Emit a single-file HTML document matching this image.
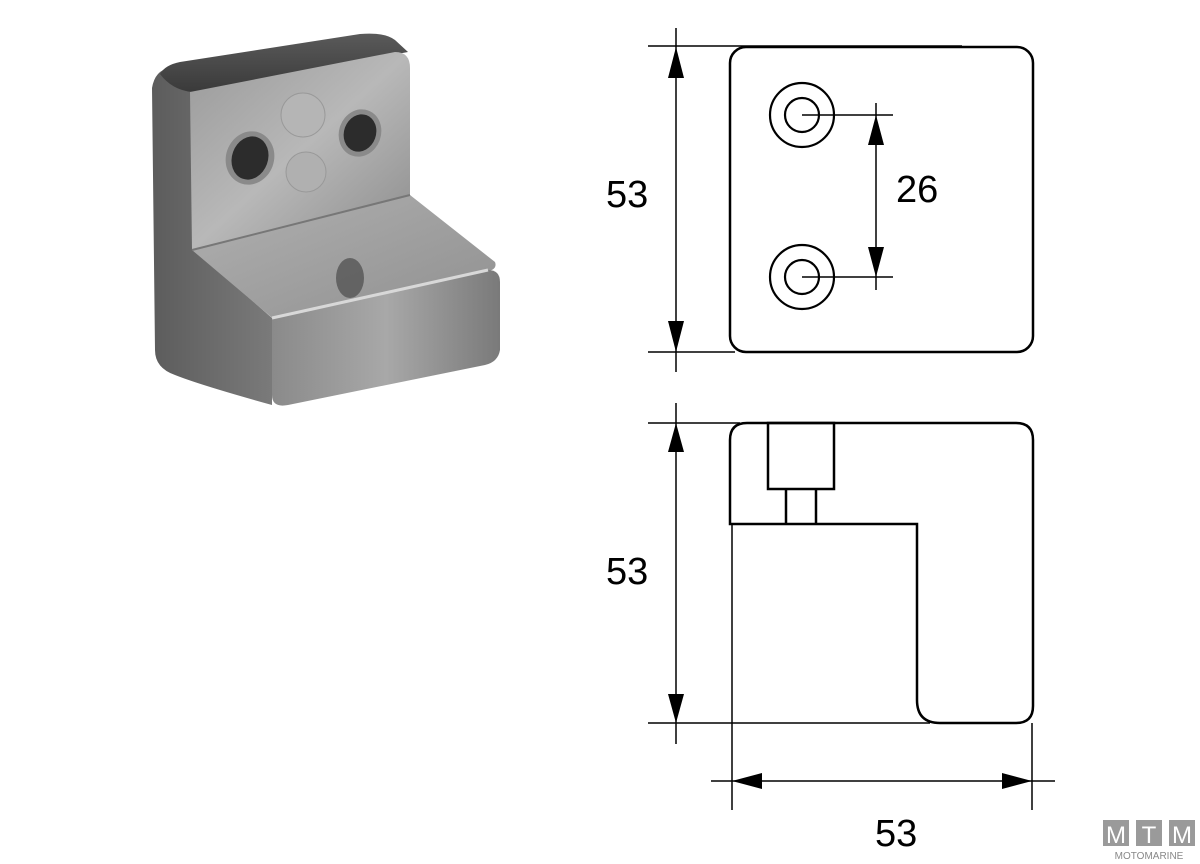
<!DOCTYPE html>
<html><head><meta charset="utf-8"><style>
html,body{margin:0;padding:0;background:#fff;width:1200px;height:864px;overflow:hidden}
svg{display:block}
</style></head><body>
<svg width="1200" height="864" viewBox="0 0 1200 864" xmlns="http://www.w3.org/2000/svg">
<defs>
<linearGradient id="gTop" x1="0" y1="0" x2="0" y2="1"><stop offset="0" stop-color="#5a5a5a"/><stop offset="1" stop-color="#3a3a3a"/></linearGradient>
<linearGradient id="gFace" x1="0" y1="0" x2="1" y2="1"><stop offset="0" stop-color="#9a9a9a"/><stop offset="0.5" stop-color="#b8b8b8"/><stop offset="1" stop-color="#8c8c8c"/></linearGradient>
<linearGradient id="gSide" x1="0" y1="0" x2="1" y2="0"><stop offset="0" stop-color="#5c5c5c"/><stop offset="1" stop-color="#7a7a7a"/></linearGradient>
<linearGradient id="gBase" x1="0" y1="0" x2="1" y2="0"><stop offset="0" stop-color="#8a8a8a"/><stop offset="0.5" stop-color="#a8a8a8"/><stop offset="1" stop-color="#7a7a7a"/></linearGradient>
<linearGradient id="gShelf" x1="0" y1="0" x2="1" y2="1"><stop offset="0" stop-color="#b0b0b0"/><stop offset="1" stop-color="#909090"/></linearGradient>
</defs>
<g>
<path d="M152,88 Q155,70 170,68 L192,92 L192,248 L272,318 L272,405 Q200,385 175,375 Q155,368 155,350 Z" fill="url(#gSide)"/>
<path d="M160,74 Q165,65 180,62 L360,34 Q385,32 395,40 L408,52 L192,92 Q172,90 160,74 Z" fill="url(#gTop)"/>
<path d="M190,92 L395,52 Q410,52 410,68 L410,195 L192,250 Z" fill="url(#gFace)"/>
<path d="M192,250 L410,195 L495,262 Q498,270 485,272 L285,320 Q275,322 270,316 Z" fill="url(#gShelf)"/>
<path d="M272,318 L488,270 Q500,270 500,282 L500,350 Q498,362 485,365 L288,405 Q272,408 272,395 Z" fill="url(#gBase)"/>
<path d="M272,318 L488,270" stroke="#d8d8d8" stroke-width="3" fill="none"/>
<path d="M192,250 L410,195" stroke="#777" stroke-width="2" fill="none"/>
<ellipse cx="250" cy="158" rx="24" ry="27" transform="rotate(20 250 158)" fill="#8a8a8a"/>
<ellipse cx="250" cy="158" rx="18" ry="22" transform="rotate(20 250 158)" fill="#2c2c2c"/>
<ellipse cx="360" cy="133" rx="21" ry="24" transform="rotate(20 360 133)" fill="#8a8a8a"/>
<ellipse cx="360" cy="133" rx="16" ry="19" transform="rotate(20 360 133)" fill="#2c2c2c"/>
<circle cx="303" cy="115" r="22" fill="#b5b5b5" stroke="#999" stroke-width="1"/>
<circle cx="306" cy="172" r="20" fill="#b0b0b0" stroke="#999" stroke-width="1"/>
<ellipse cx="350" cy="278" rx="14" ry="20" fill="#555" opacity="0.8"/>
</g>

<g stroke="#000" fill="none">
<rect x="730" y="47" width="303" height="305" rx="16" stroke-width="2.5"/>
<circle cx="802" cy="115" r="32" stroke-width="2.2"/>
<circle cx="802" cy="115" r="17" stroke-width="2.2"/>
<circle cx="802" cy="277" r="32" stroke-width="2.2"/>
<circle cx="802" cy="277" r="17" stroke-width="2.2"/>
<line x1="802" y1="115" x2="893" y2="115" stroke-width="1.5"/>
<line x1="802" y1="277" x2="893" y2="277" stroke-width="1.5"/>
<line x1="876" y1="103" x2="876" y2="290" stroke-width="1.5"/>
<line x1="648" y1="46" x2="962" y2="46" stroke-width="1.5"/>
<line x1="648" y1="352" x2="735" y2="352" stroke-width="1.5"/>
<line x1="676" y1="28" x2="676" y2="372" stroke-width="1.5"/>
<path d="M730,524 L730,440 Q730,423 747,423 L1016,423 Q1033,423 1033,440 L1033,706 Q1033,723 1016,723 L940,723 Q917,723 917,700 L917,524 Z" stroke-width="2.5"/>
<rect x="768" y="423" width="66" height="66" stroke-width="2.5"/>
<line x1="786" y1="489" x2="786" y2="524" stroke-width="2.5"/>
<line x1="816" y1="489" x2="816" y2="524" stroke-width="2.5"/>
<line x1="648" y1="423" x2="740" y2="423" stroke-width="1.5"/>
<line x1="648" y1="723" x2="930" y2="723" stroke-width="1.5"/>
<line x1="676" y1="403" x2="676" y2="744" stroke-width="1.5"/>
<line x1="732" y1="524" x2="732" y2="810" stroke-width="1.5"/>
<line x1="1032" y1="723" x2="1032" y2="810" stroke-width="1.5"/>
<line x1="711" y1="781" x2="1055" y2="781" stroke-width="1.5"/>
</g>
<g fill="#000">
<polygon points="676,47 668,78 684,78"/>
<polygon points="676,352 668,321 684,321"/>
<polygon points="876,115 868,145 884,145"/>
<polygon points="876,277 868,247 884,247"/>
<polygon points="676,423 668,452 684,452"/>
<polygon points="676,723 668,694 684,694"/>
<polygon points="732,781 762,773 762,789"/>
<polygon points="1032,781 1002,773 1002,789"/>
</g>
<g font-family="Liberation Sans, sans-serif" font-size="38" fill="#000">
<text x="606" y="207">53</text>
<text x="896" y="202">26</text>
<text x="606" y="584">53</text>
<text x="875" y="846">53</text>
</g>
<g fill="#9a9a9a">
<rect x="1103" y="820" width="26" height="26"/>
<rect x="1136" y="820" width="26" height="26"/>
<rect x="1169" y="820" width="26" height="26"/>
</g>
<g font-family="Liberation Sans, sans-serif" fill="#fff" font-size="24" text-anchor="middle">
<text x="1116" y="843">M</text><text x="1149" y="843">T</text><text x="1182" y="843">M</text>
</g>
<text x="1149" y="859" font-family="Liberation Sans, sans-serif" font-size="10" fill="#888" text-anchor="middle">MOTOMARINE</text>
</svg>
</body></html>
